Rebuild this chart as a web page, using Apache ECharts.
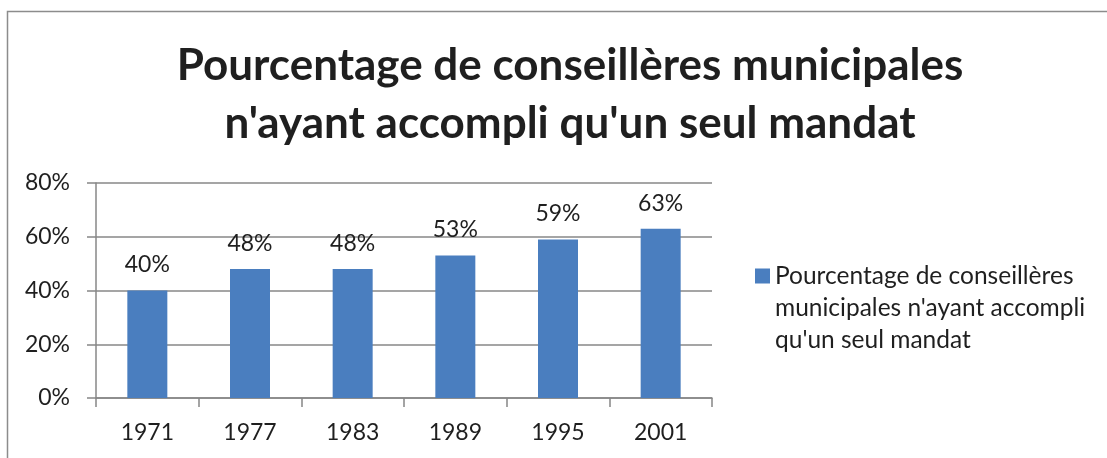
<!DOCTYPE html>
<html>
<head>
<meta charset="utf-8">
<script src="https://cdn.jsdelivr.net/npm/echarts@6/dist/echarts.min.js"></script>
<style>
  html, body { margin: 0; padding: 0; background: #ffffff; }
  #chart { width: 1107px; height: 458px; }
</style>
</head>
<body>
<div id="chart"></div>
<script>
// Election years (categories)
const years = ['1971', '1977', '1983', '1989', '1995', '2001'];
// Share of women councillors who served a single term (%)
const singleTermShare = [40, 48, 48, 53, 59, 63];
// Value axis tick values (%)
const yTicks = [0, 20, 40, 60, 80];
const seriesName = "Pourcentage de conseillères municipales n'ayant accompli qu'un seul mandat";
const legendLines = ["Pourcentage de conseillères", "municipales n'ayant accompli", "qu'un seul mandat"];
const titleLines = ["Pourcentage de conseillères municipales", "n'ayant accompli qu'un seul mandat"];

const FONT = 'Lato';
const TEXT = '#1f1f1f';
const AXIS = '#878787';

// Legend square sits beside the first line of a three-line label:
// the icon box is taller than the square so the square lines up with line one.
const LEGEND_LINE_H = 32;
const LEGEND_SQ = 15;
const LEGEND_ICON_H = LEGEND_SQ + 2 * LEGEND_LINE_H;
const legendIcon = 'path://M0,0L' + LEGEND_SQ + ',0L' + LEGEND_SQ + ',' + LEGEND_SQ + 'L0,' + LEGEND_SQ +
  'ZM0,' + LEGEND_ICON_H + 'L0.001,' + LEGEND_ICON_H;

const chart = echarts.init(document.getElementById('chart'));
chart.setOption({
  animation: false,
  backgroundColor: '#ffffff',
  textStyle: { fontFamily: FONT },
  title: {
    text: titleLines.join('\n'),
    left: 565,
    top: 32,
    textAlign: 'center',
    textStyle: {
      fontFamily: FONT,
      fontWeight: 'bold',
      fontSize: 44,
      lineHeight: 58,
      color: TEXT
    }
  },
  legend: {
    data: [seriesName],
    left: 750,
    top: 255,
    orient: 'vertical',
    icon: legendIcon,
    itemWidth: LEGEND_SQ,
    itemHeight: LEGEND_ICON_H,
    formatter: function () { return legendLines.join('\n'); },
    textStyle: {
      fontFamily: FONT,
      fontSize: 24.5,
      lineHeight: LEGEND_LINE_H,
      color: TEXT
    }
  },
  grid: { left: 96, top: 183, width: 616, height: 215, containLabel: false },
  xAxis: {
    type: 'category',
    data: years,
    axisLine: { show: true, lineStyle: { color: AXIS, width: 1.5 } },
    axisTick: { show: true, length: 9, lineStyle: { color: AXIS, width: 1.5 } },
    axisLabel: { fontFamily: FONT, fontSize: 23, color: TEXT, margin: 23 }
  },
  yAxis: {
    type: 'value',
    min: yTicks[0],
    max: yTicks[yTicks.length - 1],
    interval: yTicks[1] - yTicks[0],
    axisLine: { show: true, lineStyle: { color: AXIS, width: 1.5 } },
    axisTick: { show: true, length: 9, lineStyle: { color: AXIS, width: 1.5 } },
    splitLine: { show: true, lineStyle: { color: AXIS, width: 1.5 } },
    axisLabel: {
      fontFamily: FONT, fontSize: 23, color: TEXT, margin: 26,
      formatter: function (v) { return v + '%'; }
    }
  },
  series: [{
    name: seriesName,
    type: 'bar',
    data: singleTermShare,
    barWidth: 40,
    itemStyle: { color: '#4A7EBF' },
    label: {
      show: true,
      position: 'top',
      distance: 14,
      fontFamily: FONT,
      fontSize: 23,
      color: TEXT,
      formatter: function (p) { return p.value + '%'; }
    }
  }],
  graphic: [{
    type: 'polyline',
    silent: true,
    shape: { points: [[7.5, 458], [7.5, 11.5], [1107, 11.5]] },
    style: { stroke: '#8c8c8c', lineWidth: 1.5, fill: null }
  }]
});
</script>
</body>
</html>
